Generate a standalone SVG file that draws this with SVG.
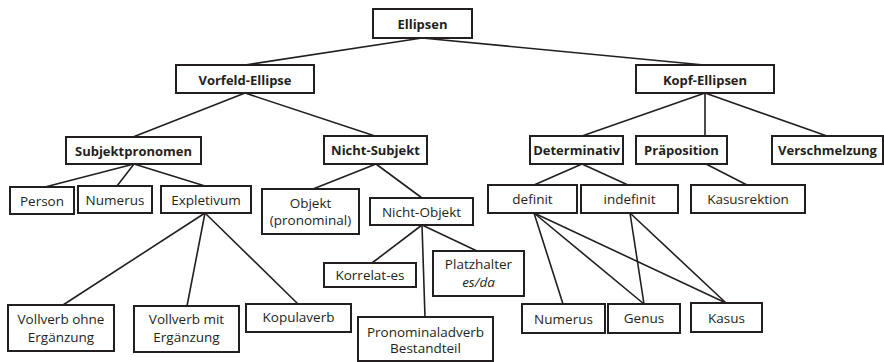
<svg xmlns="http://www.w3.org/2000/svg" width="884" height="362" viewBox="0 0 884 362">
  <style>
    .box { fill: #ffffff; stroke: #231f20; stroke-width: 2; }
    .edge { stroke: #231f20; stroke-width: 1.6; fill: none; stroke-linecap: round; }
    text { font-family: "Open Sans", "Noto Sans", "DejaVu Sans", sans-serif; font-size: 13.5px; fill: #231f20; text-anchor: middle; }
    .b { font-weight: bold; font-size: 13px; }
    .i { font-style: italic; }
  </style>
  <rect width="884" height="362" fill="#ffffff"/>

  <!-- connectors -->
  <g id="connectors">
    <line class="edge" x1="422" y1="38" x2="245" y2="65"/>
    <line class="edge" x1="422" y1="38" x2="704" y2="65"/>
    <line class="edge" x1="245" y1="93" x2="133" y2="137"/>
    <line class="edge" x1="245" y1="93" x2="375" y2="136"/>
    <line class="edge" x1="705" y1="93" x2="582" y2="136"/>
    <line class="edge" x1="705" y1="93" x2="705" y2="136"/>
    <line class="edge" x1="705" y1="93" x2="827" y2="136"/>
    <line class="edge" x1="134" y1="164" x2="45" y2="187"/>
    <line class="edge" x1="134" y1="164" x2="117" y2="186"/>
    <line class="edge" x1="134" y1="164" x2="205" y2="186"/>
    <line class="edge" x1="376" y1="164" x2="313" y2="189"/>
    <line class="edge" x1="376" y1="164" x2="422" y2="198"/>
    <line class="edge" x1="422" y1="225" x2="372" y2="263"/>
    <line class="edge" x1="422" y1="225" x2="477" y2="251"/>
    <line class="edge" x1="422" y1="225" x2="425" y2="317"/>
    <line class="edge" x1="205" y1="213" x2="63" y2="305"/>
    <line class="edge" x1="205" y1="213" x2="187" y2="306"/>
    <line class="edge" x1="205" y1="213" x2="298" y2="304"/>
    <line class="edge" x1="582" y1="164" x2="534" y2="185"/>
    <line class="edge" x1="582" y1="164" x2="628" y2="185"/>
    <line class="edge" x1="706" y1="164" x2="747" y2="185"/>
    <line class="edge" x1="534" y1="213" x2="563" y2="304"/>
    <line class="edge" x1="534" y1="213" x2="644" y2="304"/>
    <line class="edge" x1="534" y1="213" x2="726" y2="303"/>
    <line class="edge" x1="630" y1="213" x2="644" y2="304"/>
    <line class="edge" x1="630" y1="213" x2="726" y2="303"/>
  </g>

  <!-- level 0 -->
  <g id="ellipsen">
    <rect class="box" x="373" y="9" width="99" height="29"/>
    <text class="b" x="422.5" y="28.5">Ellipsen</text>
  </g>

  <!-- level 1 -->
  <g id="vorfeld-ellipse">
    <rect class="box" x="176" y="65" width="138" height="28"/>
    <text class="b" x="245" y="84.5">Vorfeld-Ellipse</text>
  </g>
  <g id="kopf-ellipsen">
    <rect class="box" x="636" y="65" width="138" height="28"/>
    <text class="b" x="705" y="84.5">Kopf-Ellipsen</text>
  </g>

  <!-- level 2 -->
  <g id="subjektpronomen">
    <rect class="box" x="66" y="137" width="135" height="27"/>
    <text class="b" x="133.5" y="155.5">Subjektpronomen</text>
  </g>
  <g id="nicht-subjekt">
    <rect class="box" x="324" y="136" width="103" height="28"/>
    <text class="b" x="375.5" y="155">Nicht-Subjekt</text>
  </g>
  <g id="determinativ">
    <rect class="box" x="530" y="136" width="93" height="28"/>
    <text class="b" x="576.5" y="155">Determinativ</text>
  </g>
  <g id="praeposition">
    <rect class="box" x="636" y="136" width="91" height="28"/>
    <text class="b" x="681.5" y="155">Präposition</text>
  </g>
  <g id="verschmelzung">
    <rect class="box" x="772" y="136" width="111" height="28"/>
    <text class="b" x="827.5" y="155">Verschmelzung</text>
  </g>

  <!-- level 3 -->
  <g id="person">
    <rect class="box" x="10" y="187" width="64" height="27"/>
    <text x="42" y="206">Person</text>
  </g>
  <g id="numerus-subjekt">
    <rect class="box" x="78" y="186" width="74" height="27"/>
    <text x="115" y="204.5">Numerus</text>
  </g>
  <g id="expletivum">
    <rect class="box" x="161" y="186" width="90" height="27"/>
    <text x="206" y="204.5">Expletivum</text>
  </g>
  <g id="objekt">
    <rect class="box" x="262" y="189" width="97" height="45"/>
    <text x="310.5" y="208">Objekt</text>
    <text x="310.5" y="225">(pronominal)</text>
  </g>
  <g id="nicht-objekt">
    <rect class="box" x="370" y="198" width="103" height="27"/>
    <text x="421.5" y="216.5">Nicht-Objekt</text>
  </g>
  <g id="definit">
    <rect class="box" x="488" y="185" width="89" height="28"/>
    <text x="532.5" y="204">definit</text>
  </g>
  <g id="indefinit">
    <rect class="box" x="581" y="185" width="97" height="28"/>
    <text x="629.5" y="204">indefinit</text>
  </g>
  <g id="kasusrektion">
    <rect class="box" x="691" y="185" width="114" height="28"/>
    <text x="748" y="204">Kasusrektion</text>
  </g>

  <!-- level 4 -->
  <g id="korrelat-es">
    <rect class="box" x="324" y="263" width="92" height="24"/>
    <text x="370" y="280">Korrelat-es</text>
  </g>
  <g id="platzhalter">
    <rect class="box" x="433" y="251" width="91" height="45"/>
    <text x="478.5" y="269">Platzhalter</text>
    <text class="i" x="478.5" y="286.5">es/da</text>
  </g>
  <g id="pronominaladverb">
    <rect class="box" x="358" y="317" width="135" height="44"/>
    <text x="425.5" y="336.5">Pronominaladverb</text>
    <text x="425.5" y="353">Bestandteil</text>
  </g>
  <g id="vollverb-ohne">
    <rect class="box" x="8" y="305" width="106" height="46"/>
    <text x="61" y="323.5">Vollverb ohne</text>
    <text x="61" y="341.5">Ergänzung</text>
  </g>
  <g id="vollverb-mit">
    <rect class="box" x="134" y="306" width="105" height="46"/>
    <text x="186.5" y="324">Vollverb mit</text>
    <text x="186.5" y="342">Ergänzung</text>
  </g>
  <g id="kopulaverb">
    <rect class="box" x="246" y="304" width="105" height="28"/>
    <text x="298.5" y="322">Kopulaverb</text>
  </g>
  <g id="numerus-det">
    <rect class="box" x="522" y="304" width="83" height="29"/>
    <text x="563.5" y="323.5">Numerus</text>
  </g>
  <g id="genus">
    <rect class="box" x="608" y="304" width="72" height="29"/>
    <text x="644" y="323">Genus</text>
  </g>
  <g id="kasus">
    <rect class="box" x="691" y="303" width="71" height="29"/>
    <text x="726.5" y="322.5">Kasus</text>
  </g>
</svg>
